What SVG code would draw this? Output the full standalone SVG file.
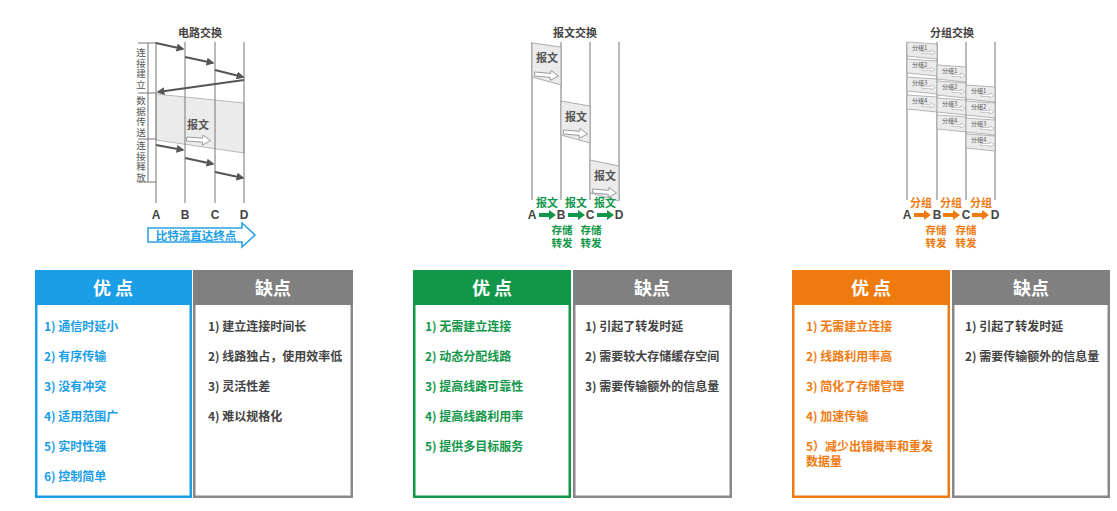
<svg xmlns="http://www.w3.org/2000/svg" width="1117" height="511" viewBox="0 0 1117 511">
<defs>
<style>
text{font-family:"Noto Sans CJK SC","Liberation Sans",sans-serif;font-weight:bold}
.title{font-size:11px;fill:#444;text-anchor:middle}
.vl{stroke:#777;stroke-width:1}
.lt{font-family:"Liberation Sans","Noto Sans CJK SC",sans-serif;font-size:12px;fill:#444;text-anchor:middle}
.side{font-size:9.5px;fill:#555;text-anchor:middle;font-weight:normal;writing-mode:vertical-rl;letter-spacing:1px}
.arr{stroke:#555;stroke-width:2;fill:none;marker-end:url(#ah)}
.msg{fill:#ebebeb;stroke:#999;stroke-width:0.8}
.msgt{font-size:11px;fill:#555;text-anchor:middle}
.oa{fill:#fff;stroke:#888;stroke-width:0.8}
.pk{fill:#ebebeb;stroke:#999;stroke-width:0.7}
.pkt{font-size:6px;fill:#555;font-weight:normal}
.gl{font-size:11px;fill:#12974a;text-anchor:middle}
.ol{font-size:11px;fill:#ef7b10;text-anchor:middle}
.sm{font-size:10.5px}
.hd{font-size:18px;fill:#fff;text-anchor:middle}
.it{font-size:12px}
.b{fill:#1a9ee6}.g{fill:#12974a}.o{fill:#ef7b10}.k{fill:#444}
</style>
<marker id="ah" viewBox="0 0 10 10" refX="8" refY="5" markerWidth="4" markerHeight="4" orient="auto" markerUnits="strokeWidth">
<path d="M0,0 L10,5 L0,10 Z" fill="#555"/>
</marker>
<path id="oarrow" d="M0,3 L16,3 L16,0 L24,5 L16,10 L16,7 L0,7 Z"/>
<path id="garrow" d="M0,-2 L10,-2 L10,-5 L17,0 L10,5 L10,2 L0,2 Z"/>
</defs>

<!-- Circuit switching -->
<g id="circuit">
<text class="title" x="200" y="37">电路交换</text>
<polygon points="156,94 244,103 244,153 156,140" fill="#ebebeb" stroke="#aaa" stroke-width="0.8"/>
<line class="vl" x1="156" y1="42" x2="156" y2="203"/>
<line class="vl" x1="185" y1="42" x2="185" y2="203"/>
<line class="vl" x1="215" y1="42" x2="215" y2="203"/>
<line class="vl" x1="244" y1="42" x2="244" y2="203"/>
<line x1="148" y1="43" x2="148" y2="182" stroke="#777" stroke-width="1"/>
<line x1="138" y1="43" x2="156" y2="43" stroke="#777" stroke-width="1"/>
<line x1="138" y1="93" x2="156" y2="93" stroke="#777" stroke-width="1"/>
<line x1="138" y1="139" x2="156" y2="139" stroke="#777" stroke-width="1"/>
<line x1="138" y1="182" x2="156" y2="182" stroke="#777" stroke-width="1"/>
<text class="side" x="141" y="69">连接建立</text>
<text class="side" x="141" y="117">数据传送</text>
<text class="side" x="141" y="162">连接释放</text>
<text class="msgt" x="198" y="129" font-size="12">报文</text>
<use href="#oarrow" class="oa" transform="translate(187,134) rotate(4)"/>
<text class="lt" x="156" y="219">A</text>
<text class="lt" x="185" y="219">B</text>
<text class="lt" x="215" y="219">C</text>
<text class="lt" x="244" y="219">D</text>
<path d="M148,228 L242,228 L242,223 L255,235 L242,247 L242,242 L148,242 Z" fill="#fff" stroke="#29a3e3" stroke-width="1.6"/>
<text x="196" y="239.5" font-size="11.5" fill="#1a9ee6" text-anchor="middle">比特流直达终点</text>
</g>

<!-- Message switching -->
<g id="message">
<text class="title" x="575" y="37">报文交换</text>
<line class="vl" x1="532" y1="42" x2="532" y2="200"/>
<line class="vl" x1="561" y1="42" x2="561" y2="200"/>
<line class="vl" x1="590" y1="42" x2="590" y2="200"/>
<line class="vl" x1="619" y1="42" x2="619" y2="200"/>
<polygon class="msg" points="532,43 561,47 561,85 532,77"/>
<text class="msgt" x="547" y="62">报文</text>
<use href="#oarrow" class="oa" transform="translate(535,69) rotate(5)"/>
<polygon class="msg" points="561,101 590,106 590,143 561,135"/>
<text class="msgt" x="576" y="121">报文</text>
<use href="#oarrow" class="oa" transform="translate(564,127) rotate(5)"/>
<polygon class="msg" points="590,160 619,166 619,201 590,193"/>
<text class="msgt" x="605" y="180">报文</text>
<use href="#oarrow" class="oa" transform="translate(593,186) rotate(5)"/>
<text class="gl" x="547" y="207">报文</text>
<text class="gl" x="576" y="207">报文</text>
<text class="gl" x="605" y="207">报文</text>
<text class="lt" x="532" y="219">A</text>
<text class="lt" x="561" y="219">B</text>
<text class="lt" x="590" y="219">C</text>
<text class="lt" x="619" y="219">D</text>
<use href="#garrow" fill="#12974a" transform="translate(539,215)"/>
<use href="#garrow" fill="#12974a" transform="translate(568,215)"/>
<use href="#garrow" fill="#12974a" transform="translate(597,215)"/>
<text class="gl sm" x="562" y="233.5">存储</text>
<text class="gl sm" x="591" y="233.5">存储</text>
<text class="gl sm" x="562" y="247">转发</text>
<text class="gl sm" x="591" y="247">转发</text>
</g>

<!-- Packet switching -->
<g id="packet">
<text class="title" x="952" y="37">分组交换</text>
<line class="vl" x1="907" y1="42" x2="907" y2="200"/>
<line class="vl" x1="937" y1="42" x2="937" y2="200"/>
<line class="vl" x1="966" y1="42" x2="966" y2="200"/>
<line class="vl" x1="995" y1="42" x2="995" y2="200"/>
<g transform="translate(907,42)"><polygon class="pk" points="0,0 30,2 30,17 0,14"/><text class="pkt" x="5" y="8">分组1</text><use href="#oarrow" class="oa" transform="translate(15,8) scale(0.55,0.5)"/></g>
<g transform="translate(907,59)"><polygon class="pk" points="0,0 30,2 30,17 0,14"/><text class="pkt" x="5" y="8">分组2</text><use href="#oarrow" class="oa" transform="translate(15,8) scale(0.55,0.5)"/></g>
<g transform="translate(907,77)"><polygon class="pk" points="0,0 30,2 30,17 0,14"/><text class="pkt" x="5" y="8">分组3</text><use href="#oarrow" class="oa" transform="translate(15,8) scale(0.55,0.5)"/></g>
<g transform="translate(907,95)"><polygon class="pk" points="0,0 30,2 30,17 0,14"/><text class="pkt" x="5" y="8">分组4</text><use href="#oarrow" class="oa" transform="translate(15,8) scale(0.55,0.5)"/></g>
<g transform="translate(937,65)"><polygon class="pk" points="0,0 29,2 29,17 0,14"/><text class="pkt" x="5" y="8">分组1</text><use href="#oarrow" class="oa" transform="translate(15,8) scale(0.55,0.5)"/></g>
<g transform="translate(937,81)"><polygon class="pk" points="0,0 29,2 29,17 0,14"/><text class="pkt" x="5" y="8">分组2</text><use href="#oarrow" class="oa" transform="translate(15,8) scale(0.55,0.5)"/></g>
<g transform="translate(937,98)"><polygon class="pk" points="0,0 29,2 29,17 0,14"/><text class="pkt" x="5" y="8">分组3</text><use href="#oarrow" class="oa" transform="translate(15,8) scale(0.55,0.5)"/></g>
<g transform="translate(937,115)"><polygon class="pk" points="0,0 29,2 29,17 0,14"/><text class="pkt" x="5" y="8">分组4</text><use href="#oarrow" class="oa" transform="translate(15,8) scale(0.55,0.5)"/></g>
<g transform="translate(966,85)"><polygon class="pk" points="0,0 29,2 29,17 0,14"/><text class="pkt" x="5" y="8">分组1</text><use href="#oarrow" class="oa" transform="translate(15,8) scale(0.55,0.5)"/></g>
<g transform="translate(966,101)"><polygon class="pk" points="0,0 29,2 29,17 0,14"/><text class="pkt" x="5" y="8">分组2</text><use href="#oarrow" class="oa" transform="translate(15,8) scale(0.55,0.5)"/></g>
<g transform="translate(966,118)"><polygon class="pk" points="0,0 29,2 29,17 0,14"/><text class="pkt" x="5" y="8">分组3</text><use href="#oarrow" class="oa" transform="translate(15,8) scale(0.55,0.5)"/></g>
<g transform="translate(966,134)"><polygon class="pk" points="0,0 29,2 29,17 0,14"/><text class="pkt" x="5" y="8">分组4</text><use href="#oarrow" class="oa" transform="translate(15,8) scale(0.55,0.5)"/></g>
<text class="ol" x="921" y="207">分组</text>
<text class="ol" x="951" y="207">分组</text>
<text class="ol" x="981" y="207">分组</text>
<text class="lt" x="907" y="219">A</text>
<text class="lt" x="937" y="219">B</text>
<text class="lt" x="966" y="219">C</text>
<text class="lt" x="995" y="219">D</text>
<use href="#garrow" fill="#ef7b10" transform="translate(914,215)"/>
<use href="#garrow" fill="#ef7b10" transform="translate(943,215)"/>
<use href="#garrow" fill="#ef7b10" transform="translate(972,215)"/>
<text class="ol sm" x="936" y="233.5">存储</text>
<text class="ol sm" x="966" y="233.5">存储</text>
<text class="ol sm" x="936" y="247">转发</text>
<text class="ol sm" x="966" y="247">转发</text>
</g>

<!-- Tables -->
<g id="table-circuit-pros">
<rect x="36.25" y="271.25" width="154.5" height="225.5" fill="#fff" stroke="#1a9ee6" stroke-width="2.5"/>
<rect x="35" y="270" width="157" height="35" fill="#1a9ee6"/>
<text class="hd" x="113" y="295">优  点</text>
<text class="it b"><tspan x="44" y="331">1) 通信时延小</tspan><tspan x="44" y="361">2) 有序传输</tspan><tspan x="44" y="391">3) 没有冲突</tspan><tspan x="44" y="421">4) 适用范围广</tspan><tspan x="44" y="451">5) 实时性强</tspan><tspan x="44" y="481">6) 控制简单</tspan></text>
</g>
<g id="table-circuit-cons">
<rect x="194.25" y="271.25" width="157.5" height="225.5" fill="#fff" stroke="#888" stroke-width="2.5"/>
<rect x="193" y="270" width="160" height="35" fill="#808080"/>
<text class="hd" x="273" y="295">缺点</text>
<text class="it k"><tspan x="208" y="331">1) 建立连接时间长</tspan><tspan x="208" y="361">2) 线路独占，使用效率低</tspan><tspan x="208" y="391">3) 灵活性差</tspan><tspan x="208" y="421">4) 难以规格化</tspan></text>
</g>

<g id="table-message-pros">
<rect x="414.25" y="271.25" width="155.5" height="225.5" fill="#fff" stroke="#12974a" stroke-width="2.5"/>
<rect x="413" y="270" width="158" height="35" fill="#12974a"/>
<text class="hd" x="492" y="295">优  点</text>
<text class="it g"><tspan x="425" y="331">1) 无需建立连接</tspan><tspan x="425" y="361">2) 动态分配线路</tspan><tspan x="425" y="391">3) 提高线路可靠性</tspan><tspan x="425" y="421">4) 提高线路利用率</tspan><tspan x="425" y="451">5) 提供多目标服务</tspan></text>
</g>
<g id="table-message-cons">
<rect x="574.25" y="271.25" width="156.5" height="225.5" fill="#fff" stroke="#888" stroke-width="2.5"/>
<rect x="573" y="270" width="159" height="35" fill="#808080"/>
<text class="hd" x="652" y="295">缺点</text>
<text class="it k"><tspan x="585" y="331">1) 引起了转发时延</tspan><tspan x="585" y="361">2) 需要较大存储缓存空间</tspan><tspan x="585" y="391">3) 需要传输额外的信息量</tspan></text>
</g>

<g id="table-packet-pros">
<rect x="793.25" y="271.25" width="155.5" height="225.5" fill="#fff" stroke="#ef7b10" stroke-width="2.5"/>
<rect x="792" y="270" width="158" height="35" fill="#ef7b10"/>
<text class="hd" x="871" y="295">优  点</text>
<text class="it o"><tspan x="806" y="331">1) 无需建立连接</tspan><tspan x="806" y="361">2) 线路利用率高</tspan><tspan x="806" y="391">3) 简化了存储管理</tspan><tspan x="806" y="421">4) 加速传输</tspan><tspan x="806" y="451">5）减少出错概率和重发</tspan><tspan x="806" y="466">数据量</tspan></text>
</g>
<g id="table-packet-cons">
<rect x="953.25" y="271.25" width="155.5" height="225.5" fill="#fff" stroke="#888" stroke-width="2.5"/>
<rect x="952" y="270" width="158" height="35" fill="#808080"/>
<text class="hd" x="1031" y="295">缺点</text>
<text class="it k"><tspan x="965" y="331">1) 引起了转发时延</tspan><tspan x="965" y="361">2) 需要传输额外的信息量</tspan></text>
</g>

<g id="connectors">
<line class="arr" x1="156" y1="43" x2="183" y2="49"/>
<line class="arr" x1="185" y1="57" x2="213" y2="63"/>
<line class="arr" x1="215" y1="70" x2="243" y2="77"/>
<line class="arr" x1="244" y1="80" x2="158" y2="92"/>
<line class="arr" x1="156" y1="145" x2="183" y2="150"/>
<line class="arr" x1="185" y1="158" x2="213" y2="164"/>
<line class="arr" x1="215" y1="172" x2="243" y2="178"/>
</g>
</svg>
